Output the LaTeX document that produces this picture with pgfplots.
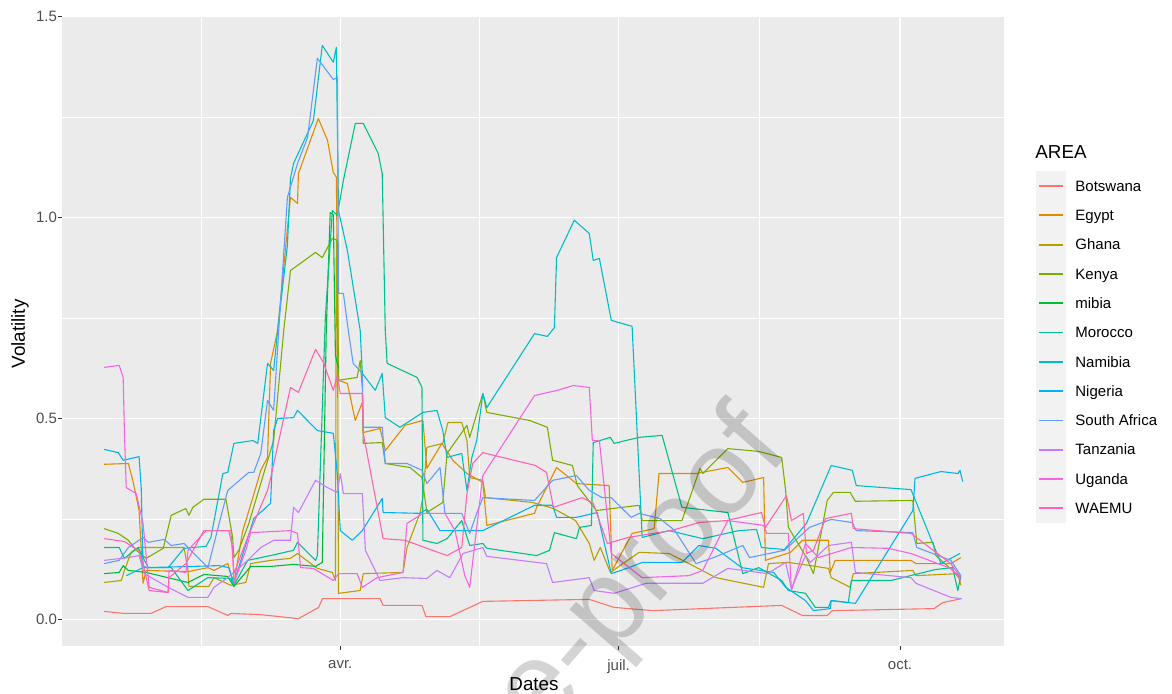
\documentclass[border=0pt]{standalone}
\usepackage{pgfplots}
\pgfplotsset{compat=1.18}
\usepackage{fontspec}
\setmainfont{Liberation Sans}
\definecolor{panelbg}{HTML}{EBEBEB}
\definecolor{keybg}{HTML}{F2F2F2}
\definecolor{gray30}{HTML}{4D4D4D}
\definecolor{gray20}{HTML}{333333}
\definecolor{cBotswana}{HTML}{F8766D}
\definecolor{cEgypt}{HTML}{DE8C00}
\definecolor{cGhana}{HTML}{B79F00}
\definecolor{cKenya}{HTML}{7CAE00}
\definecolor{cmibia}{HTML}{00BA38}
\definecolor{cMorocco}{HTML}{00C08B}
\definecolor{cNamibia}{HTML}{00BFC4}
\definecolor{cNigeria}{HTML}{00B4F0}
\definecolor{cSA}{HTML}{619CFF}
\definecolor{cTanzania}{HTML}{C77CFF}
\definecolor{cUganda}{HTML}{F564E3}
\definecolor{cWAEMU}{HTML}{FF64B0}
\begin{document}
\begin{tikzpicture}
\useasboundingbox (0,0) rectangle (586pt,346.5pt);
\begin{axis}[at={(31pt,23.5pt)}, anchor=south west, width=471pt, height=315pt, scale only axis,
 xmin=0, xmax=308, ymin=-0.066, ymax=1.501,
 axis background/.style={fill=panelbg},
 axis line style={draw=none},
 tick pos=left, tick align=outside,
 major tick length=2pt, minor tick length=0pt,
 tick style={gray20, line width=0.5pt},
 xtick={91,182,274}, xticklabels={avr.,juil.,oct.},
 minor xtick={45.5,136.5,228},
 ytick={0,0.5,1,1.5}, yticklabels={0.0,0.5,1.0,1.5},
 minor ytick={0.25,0.75,1.25},
 grid=both, major grid style={white, line width=0.75pt}, minor grid style={white, line width=0.4pt},
 ticklabel style={font=\fontsize{7.5}{8}\selectfont, text=gray30},
 xticklabel style={yshift=-1.5pt},
 yticklabel style={xshift=3pt},
 every axis plot/.append style={line width=0.55pt, mark=none, line join=round},
]
% Botswana
\addplot[cBotswana] coordinates {(13.8,0.020)(20.4,0.015)(29.1,0.015)(34.0,0.032)(47.7,0.032)(54.2,0.010)(55.2,0.015)(65.0,0.012)(77.3,0.002)(83.9,0.030)(85.2,0.052)(104.0,0.052)(105.0,0.035)(117.7,0.035)(119.0,0.007)(126.8,0.007)(137.6,0.045)(172.4,0.050)(180.5,0.030)(193.2,0.022)(219.0,0.030)(235.3,0.035)(242.1,0.010)(250.2,0.010)(251.9,0.022)(285.1,0.027)(288.0,0.042)(294.2,0.052)};
% Egypt
\addplot[cEgypt] coordinates {(13.8,0.386)(21.7,0.388)(23.3,0.341)(25.2,0.271)(26.5,0.090)(27.5,0.122)(41.2,0.119)(47.7,0.129)(49.7,0.122)(54.2,0.139)(56.2,0.090)(59.1,0.221)(62.4,0.303)(65.0,0.371)(67.2,0.403)(68.2,0.637)(70.5,0.719)(74.7,1.050)(77.0,1.035)(77.3,1.109)(83.8,1.246)(86.8,1.192)(88.7,1.112)(89.7,1.100)(90.4,0.595)(93.3,0.587)(95.9,0.495)(98.2,0.540)(98.5,0.465)(104.0,0.475)(105.7,0.420)(112.2,0.483)(118.0,0.495)(119.3,0.376)(124.2,0.438)(127.8,0.396)(132.4,0.363)(137.6,0.341)(138.9,0.234)(154.5,0.264)(155.2,0.279)(161.7,0.378)(168.2,0.338)(178.9,0.333)(179.9,0.122)(186.4,0.214)(193.6,0.226)(195.2,0.363)(207.3,0.363)(217.7,0.378)(222.6,0.341)(229.4,0.353)(230.0,0.147)(238.2,0.167)(242.1,0.197)(250.6,0.197)(251.2,0.117)(252.8,0.147)(277.6,0.147)(279.2,0.139)(290.6,0.139)(293.9,0.154)};
% Ghana
\addplot[cGhana] coordinates {(13.8,0.092)(19.4,0.097)(20.4,0.122)(22.6,0.167)(24.9,0.179)(39.9,0.179)(41.2,0.122)(41.5,0.082)(48.0,0.082)(49.7,0.104)(55.2,0.085)(60.1,0.092)(61.7,0.139)(68.2,0.147)(74.7,0.152)(77.0,0.164)(83.5,0.127)(88.4,0.117)(89.4,0.097)(89.7,0.943)(90.0,0.930)(90.4,0.065)(97.5,0.072)(98.5,0.114)(111.5,0.117)(112.8,0.179)(117.0,0.264)(118.0,0.303)(119.3,0.428)(124.5,0.438)(126.2,0.490)(130.7,0.490)(132.4,0.445)(133.3,0.353)(137.6,0.346)(138.5,0.303)(153.9,0.291)(160.7,0.276)(167.9,0.246)(172.4,0.189)(174.0,0.147)(176.0,0.179)(179.3,0.117)(188.7,0.167)(198.5,0.164)(205.0,0.139)(213.8,0.104)(229.4,0.080)(230.4,0.117)(231.0,0.139)(237.5,0.142)(244.7,0.134)(250.6,0.127)(251.5,0.104)(257.7,0.080)(258.7,0.114)(278.2,0.122)(279.2,0.109)(292.9,0.114)(293.9,0.085)};
% Kenya
\addplot[cKenya] coordinates {(13.8,0.226)(18.4,0.214)(21.7,0.197)(24.3,0.172)(27.5,0.152)(33.1,0.177)(35.7,0.259)(40.5,0.276)(41.5,0.259)(42.8,0.279)(46.4,0.299)(53.6,0.299)(55.8,0.204)(56.2,0.154)(57.8,0.172)(61.1,0.239)(64.3,0.321)(69.2,0.445)(72.5,0.719)(74.7,0.868)(78.0,0.886)(82.9,0.913)(85.1,0.900)(88.4,0.948)(90.0,0.943)(90.4,0.595)(96.5,0.602)(97.5,0.644)(98.2,0.575)(98.5,0.438)(104.7,0.440)(105.7,0.388)(113.8,0.378)(117.7,0.353)(119.3,0.266)(124.5,0.291)(125.9,0.413)(132.4,0.483)(133.3,0.453)(137.6,0.562)(138.9,0.515)(152.9,0.495)(158.7,0.478)(160.4,0.396)(166.9,0.383)(168.5,0.333)(174.7,0.271)(188.7,0.284)(189.7,0.246)(202.7,0.246)(208.6,0.376)(209.5,0.363)(217.7,0.425)(227.8,0.418)(235.3,0.403)(236.6,0.321)(237.5,0.229)(243.4,0.154)(245.7,0.114)(250.2,0.296)(252.2,0.316)(257.7,0.316)(259.4,0.294)(278.2,0.296)(279.5,0.189)(284.8,0.192)(285.7,0.159)(291.9,0.117)(293.9,0.104)};
% mibia
\addplot[cmibia] coordinates {(13.8,0.114)(18.7,0.117)(20.0,0.134)(21.7,0.122)(27.5,0.117)(41.2,0.092)(46.4,0.112)(54.2,0.107)(56.2,0.082)(61.7,0.132)(68.2,0.132)(75.7,0.137)(82.9,0.132)(85.1,0.142)(86.4,0.719)(87.7,1.012)(88.7,1.007)(89.4,0.657)(90.4,0.624)};
% Morocco
\addplot[cMorocco] coordinates {(13.8,0.179)(18.7,0.179)(20.4,0.152)(24.9,0.179)(26.5,0.154)(28.2,0.129)(35.7,0.129)(41.2,0.072)(47.7,0.104)(55.2,0.102)(56.2,0.085)(60.7,0.147)(68.2,0.159)(75.7,0.172)(77.0,0.192)(82.9,0.147)(83.5,0.159)(86.1,0.751)(88.4,1.017)(90.0,1.005)(92.0,1.092)(95.9,1.234)(98.5,1.234)(103.4,1.159)(104.7,1.109)(105.7,0.719)(106.3,0.637)(116.1,0.602)(117.7,0.577)(118.0,0.197)(122.6,0.189)(125.9,0.201)(130.7,0.246)(133.3,0.184)(137.6,0.189)(138.9,0.177)(155.2,0.159)(159.4,0.172)(161.0,0.216)(168.2,0.201)(169.2,0.229)(173.1,0.234)(173.7,0.440)(179.3,0.453)(180.5,0.438)(188.7,0.453)(196.2,0.458)(202.7,0.279)(217.7,0.266)(222.6,0.114)(227.8,0.129)(235.3,0.097)(237.5,0.072)(243.1,0.065)(246.3,0.030)(250.6,0.030)(251.5,0.047)(257.1,0.042)(258.1,0.097)(271.1,0.097)(285.4,0.124)(291.2,0.129)(292.9,0.072)(293.9,0.109)};
% Namibia
\addplot[cNamibia] coordinates {(21.0,0.109)(26.5,0.129)(34.7,0.129)(39.9,0.177)(47.1,0.182)(48.7,0.204)(52.6,0.363)(54.2,0.366)(56.2,0.438)(62.4,0.445)(64.0,0.438)(67.2,0.637)(69.2,0.619)(70.5,0.719)(73.7,0.930)(74.7,1.097)(75.7,1.134)(82.2,1.241)(85.1,1.428)(88.7,1.386)(89.7,1.423)(90.4,1.017)(93.3,0.918)(97.5,0.719)(98.2,0.612)(102.4,0.570)(104.7,0.612)(105.7,0.502)(110.5,0.478)(118.0,0.515)(122.6,0.520)(124.5,0.470)(125.9,0.403)(130.7,0.413)(132.4,0.321)(134.0,0.403)(135.6,0.445)(137.6,0.562)(138.9,0.527)(154.5,0.711)(158.7,0.704)(161.0,0.726)(161.7,0.900)(167.5,0.993)(172.4,0.960)(173.7,0.893)(175.7,0.898)(179.6,0.744)(186.4,0.729)(189.7,0.204)(198.5,0.221)(209.5,0.201)(221.3,0.221)(227.1,0.224)(228.7,0.179)(236.2,0.174)(243.4,0.239)(251.5,0.383)(258.4,0.371)(259.7,0.333)(277.6,0.323)(287.4,0.139)(293.6,0.164)};
% Nigeria
\addplot[cNigeria] coordinates {(13.8,0.423)(18.4,0.415)(20.0,0.396)(25.2,0.405)(25.9,0.328)(26.5,0.134)(27.5,0.129)(42.8,0.132)(51.3,0.134)(54.5,0.129)(56.2,0.090)(62.7,0.251)(68.2,0.289)(69.2,0.470)(70.5,0.500)(75.7,0.502)(77.0,0.520)(83.5,0.470)(88.7,0.463)(90.0,0.363)(91.0,0.221)(94.9,0.197)(98.2,0.221)(104.7,0.301)(105.0,0.266)(117.0,0.264)(119.3,0.274)(123.6,0.221)(137.6,0.221)(154.5,0.284)(160.4,0.284)(161.7,0.254)(168.2,0.254)(175.0,0.266)(179.6,0.114)(185.4,0.129)(189.7,0.142)(202.7,0.142)(208.2,0.184)(213.8,0.177)(222.2,0.129)(232.7,0.117)(236.6,0.080)(243.1,0.047)(245.7,0.022)(251.2,0.027)(251.5,0.047)(259.4,0.040)(278.2,0.271)(278.9,0.351)(287.4,0.368)(292.9,0.363)(293.6,0.371)(294.5,0.343)};
% South Africa
\addplot[cSA] coordinates {(13.8,0.139)(18.7,0.147)(21.7,0.179)(26.5,0.204)(28.2,0.192)(33.4,0.199)(35.7,0.184)(39.9,0.189)(47.7,0.129)(51.9,0.254)(54.2,0.321)(56.8,0.338)(61.1,0.366)(62.7,0.366)(65.0,0.413)(67.2,0.545)(69.2,0.520)(71.5,0.794)(73.7,1.050)(77.0,1.134)(80.3,1.199)(83.5,1.396)(88.7,1.343)(90.0,1.348)(90.4,0.811)(92.0,0.811)(93.6,0.719)(95.2,0.637)(98.2,0.612)(98.5,0.478)(104.7,0.478)(105.7,0.388)(112.8,0.388)(117.7,0.371)(119.3,0.338)(123.6,0.378)(125.2,0.264)(130.7,0.264)(133.3,0.214)(135.6,0.264)(137.6,0.303)(154.5,0.296)(160.4,0.346)(168.2,0.358)(172.4,0.321)(176.6,0.303)(179.6,0.303)(186.1,0.254)(188.7,0.264)(195.5,0.251)(200.4,0.221)(207.3,0.139)(213.1,0.154)(222.6,0.184)(224.8,0.154)(236.2,0.172)(244.4,0.229)(251.5,0.249)(258.4,0.241)(259.7,0.221)(278.2,0.216)(279.5,0.179)(290.6,0.147)(293.9,0.109)};
% Tanzania
\addplot[cTanzania] coordinates {(13.8,0.147)(21.7,0.154)(25.2,0.159)(26.9,0.114)(34.7,0.080)(41.2,0.055)(47.7,0.055)(49.7,0.080)(54.2,0.104)(60.7,0.147)(65.0,0.179)(69.2,0.197)(74.7,0.197)(75.7,0.279)(77.3,0.266)(82.9,0.346)(86.8,0.328)(90.0,0.316)(91.0,0.363)(92.0,0.313)(98.2,0.313)(99.2,0.172)(104.0,0.097)(111.5,0.104)(119.3,0.102)(122.6,0.122)(126.8,0.104)(131.1,0.164)(137.6,0.179)(138.9,0.157)(158.4,0.139)(160.4,0.092)(172.4,0.104)(174.0,0.072)(180.5,0.065)(191.0,0.090)(209.5,0.090)(217.7,0.127)(230.7,0.114)(236.6,0.142)(238.5,0.077)(243.1,0.159)(244.7,0.142)(250.6,0.184)(258.1,0.192)(259.4,0.117)(277.6,0.104)(279.2,0.090)(290.6,0.055)(293.9,0.052)};
% Uganda
\addplot[cUganda] coordinates {(13.8,0.627)(18.7,0.632)(20.0,0.602)(20.4,0.470)(21.0,0.328)(24.3,0.313)(26.5,0.239)(28.5,0.080)(34.7,0.067)(35.0,0.122)(40.5,0.117)(41.2,0.172)(47.1,0.221)(54.5,0.221)(55.8,0.179)(56.2,0.090)(60.1,0.172)(61.7,0.216)(74.7,0.221)(77.0,0.214)(78.0,0.129)(82.2,0.127)(88.7,0.097)(90.4,0.114)(96.5,0.114)(98.2,0.080)(103.0,0.104)(111.5,0.117)(112.8,0.239)(118.0,0.264)(125.2,0.264)(128.5,0.221)(131.7,0.109)(133.3,0.080)(137.6,0.358)(154.5,0.557)(162.0,0.570)(167.2,0.582)(172.4,0.577)(173.4,0.445)(175.7,0.445)(179.6,0.164)(189.7,0.104)(205.0,0.109)(209.5,0.122)(217.7,0.246)(229.4,0.234)(230.4,0.214)(237.5,0.214)(238.5,0.072)(243.1,0.189)(247.3,0.154)(258.1,0.179)(270.1,0.177)(277.6,0.164)(290.6,0.127)(293.9,0.097)};
% WAEMU
\addplot[cWAEMU] coordinates {(13.8,0.201)(20.4,0.194)(24.9,0.172)(26.5,0.139)(28.5,0.072)(34.7,0.067)(35.0,0.104)(40.5,0.139)(46.4,0.221)(55.2,0.221)(56.2,0.114)(60.7,0.204)(67.2,0.321)(68.2,0.351)(74.7,0.577)(77.3,0.565)(82.9,0.672)(85.5,0.639)(88.7,0.570)(90.0,0.607)(91.0,0.562)(98.2,0.562)(98.5,0.463)(105.0,0.201)(112.2,0.197)(119.3,0.177)(125.9,0.159)(130.7,0.179)(132.4,0.313)(134.3,0.388)(137.6,0.415)(154.8,0.383)(158.4,0.366)(160.7,0.279)(170.1,0.303)(173.7,0.289)(178.3,0.189)(185.1,0.204)(199.1,0.221)(208.2,0.241)(217.3,0.246)(228.7,0.266)(230.0,0.229)(236.9,0.308)(238.5,0.246)(242.4,0.264)(243.4,0.164)(245.7,0.172)(249.6,0.251)(258.1,0.264)(258.7,0.226)(277.6,0.214)(290.6,0.139)(293.9,0.104)};
\end{axis}
% axis titles
\node[font=\fontsize{9.4}{10}\selectfont] at (267pt,4.5pt) {Dates};
\node[font=\fontsize{9.4}{10}\selectfont, rotate=90] at (10pt,179.5pt) {Volatility};
% legend
\node[anchor=mid west, inner sep=0pt, font=\fontsize{9.4}{10}\selectfont] at (517.5pt,270pt) {AREA};
\fill[keybg] (518pt,260.8pt) rectangle (533pt,85.2pt);
\foreach \c/\n [count=\i from 0] in {cBotswana/Botswana,cEgypt/Egypt,cGhana/Ghana,cKenya/Kenya,cmibia/mibia,cMorocco/Morocco,cNamibia/Namibia,cNigeria/Nigeria,cSA/South Africa,cTanzania/Tanzania,cUganda/Uganda,cWAEMU/WAEMU}{
  \pgfmathsetmacro{\yy}{253.5-14.65*\i}
  \draw[color=\c, line width=0.9pt] (519.5pt,\yy pt) -- (531.5pt,\yy pt);
  \node[anchor=mid west, inner sep=0pt, font=\fontsize{7.5}{8}\selectfont] at (537.5pt,\yy pt) {\n};
}
% watermark
\node[rotate=49, anchor=base east, inner sep=0pt, text=black, opacity=0.17, font=\fontsize{60}{60}\selectfont] at (396pt,121pt) {Journal Pre-proof};
\end{tikzpicture}
\end{document}
